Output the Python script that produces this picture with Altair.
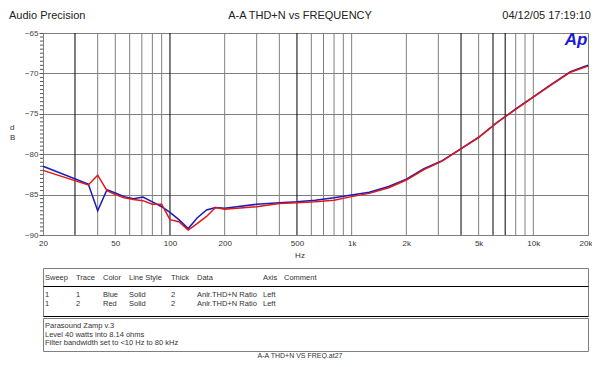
import altair as alt
import pandas as pd

# ---- data ----
freq = [20, 35.5, 40, 45, 50, 56, 63, 71, 80, 90,
        100, 112, 126, 141, 159, 178, 200,
        300, 400, 500, 630, 800, 1000,
        1250, 1600, 2000, 2500, 3150, 4000,
        5000, 6300, 8000, 10000, 12500, 16000, 20000]
db_blue = [-81.5, -83.7, -87.0, -84.4, -84.8, -85.25, -85.5, -85.3, -85.9, -86.5,
           -87.2, -88.1, -89.2, -87.9, -86.9, -86.6, -86.7,
           -86.2, -86.0, -85.9, -85.7, -85.4, -85.05,
           -84.7, -84.0, -83.1, -81.8, -80.8, -79.3,
           -77.9, -76.1, -74.4, -72.9, -71.4, -69.8, -69.0]
db_red = [-82.0, -83.8, -82.6, -84.5, -85.0, -85.4, -85.6, -85.75, -86.2, -86.2,
          -88.1, -88.35, -89.4, -88.6, -87.7, -86.6, -86.8,
          -86.5, -86.1, -86.0, -85.9, -85.7, -85.25,
          -84.85, -84.15, -83.2, -81.9, -80.85, -79.35,
          -77.95, -76.1, -74.45, -72.95, -71.45, -69.85, -69.1]

x_ticks = [20, 50, 100, 200, 500, 1000, 2000, 5000, 10000, 20000]
y_ticks = [-90, -85, -80, -75, -70, -65]
grid_gray = [40, 50, 60, 70, 80, 90, 200, 300, 400, 600, 700, 800, 900,
             1000, 2000, 3000, 5000, 8000, 9000, 10000]
grid_black = [30, 100, 500, 4000, 6000, 7000]
y_minor = [v / 2 for v in range(-180, -129) if v % 10 != 0]

header_left = "Audio Precision"
header_title = "A-A THD+N vs FREQUENCY"
header_date = "04/12/05 17:19:10"
table_cols = ["Sweep", "Trace", "Color", "Line Style", "Thick", "Data", "Axis", "Comment"]
table_rows = [["1", "1", "Blue", "Solid", "2", "Anlr.THD+N Ratio", "Left", ""],
              ["1", "2", "Red", "Solid", "2", "Anlr.THD+N Ratio", "Left", ""]]
notes = ["Parasound Zamp v.3",
         "Level 40 watts into 8.14 ohms",
         "Filter bandwidth set to <10 Hz to 80 kHz"]
footer = "A-A THD+N VS FREQ.at27"

BLUE = "#1a1ab8"
RED = "#e01818"
GRAY = "#808080"
FONT = "Liberation Sans"

W, H = 545, 202

df = pd.DataFrame({
    "f": freq + freq,
    "db": db_blue + db_red,
    "trace": ["1"] * len(freq) + ["2"] * len(freq),
})

xscale = alt.Scale(type="log", domain=[20, 20000], nice=False)
yscale = alt.Scale(domain=[-90, -65], nice=False, zero=False)

x_axis = alt.Axis(values=x_ticks, grid=False, ticks=False, domain=False,
                  labelFontSize=8, labelPadding=4, labelColor="#333333",
                  labelFont=FONT, labelFlush=False, labelOverlap=False, title=None,
                  labelAlign={"condition": {"test": "datum.value >= 20000", "value": "right"},
                              "value": "center"},
                  labelOffset={"condition": {"test": "datum.value >= 20000", "value": 4},
                               "value": 0},
                  labelExpr="datum.value >= 1000 ? format(datum.value/1000, 'd') + 'k' : format(datum.value, 'd')")
y_axis = alt.Axis(values=y_ticks, grid=True, gridColor=GRAY, gridOpacity=1,
                  domain=False, tickSize=4, tickColor="#555555", title=None,
                  labelFontSize=8, labelPadding=1, labelColor="#444444",
                  labelFont=FONT, format="d")

one = alt.Data(values=[{}])


def txt(s, x, y, size=8, align="left", color="#333333", weight="normal",
        style="normal", baseline="middle"):
    return alt.Chart(one).mark_text(
        text=s, align=align, baseline=baseline, fontSize=size, color=color,
        font=FONT, fontWeight=weight, fontStyle=style
    ).encode(x=alt.value(x), y=alt.value(y))


def box(x0, x1, y0, y1, color=GRAY):
    return alt.Chart(one).mark_rect(fillOpacity=0, stroke=color, strokeWidth=1).encode(
        x=alt.value(x0), x2=alt.value(x1), y=alt.value(y0), y2=alt.value(y1))


def hline(x0, x1, y, color="#000000"):
    return alt.Chart(one).mark_rule(color=color, strokeWidth=1).encode(
        x=alt.value(x0), x2=alt.value(x1), y=alt.value(y))


lines = alt.Chart(df).mark_line(strokeWidth=1.5).encode(
    x=alt.X("f:Q", scale=xscale, axis=x_axis),
    y=alt.Y("db:Q", scale=yscale, axis=y_axis),
    color=alt.Color("trace:N", scale=alt.Scale(domain=["1", "2"], range=[BLUE, RED]),
                    legend=None),
)
gray_rules = alt.Chart(pd.DataFrame({"f": grid_gray})).mark_rule(
    color=GRAY, strokeWidth=1).encode(x=alt.X("f:Q", scale=xscale, axis=x_axis))
black_rules = alt.Chart(pd.DataFrame({"f": grid_black})).mark_rule(
    color="#000000", strokeWidth=1).encode(x=alt.X("f:Q", scale=xscale, axis=x_axis))
minor_ticks = alt.Chart(pd.DataFrame({"v": y_minor})).mark_rule(
    color="#555555", strokeWidth=1).encode(
    y=alt.Y("v:Q", scale=yscale, axis=y_axis), x=alt.value(-3), x2=alt.value(0))

layers = [gray_rules, black_rules, minor_ticks, lines]

# header
layers += [
    txt(header_left, -34, -17, size=11, color="#222222"),
    txt(header_title, 257, -17, size=11, align="center", color="#222222"),
    txt(header_date, 548, -17, size=11, align="right", color="#222222"),
    txt("Ap", 533, 7, size=17, align="center", color="#1a1ad8", weight="bold", style="italic"),
    txt("d", -33, 95, size=8),
    txt("B", -33, 105, size=8),
    txt("Hz", 257, 223, size=8, align="center"),
]

# table
TS = 7.5
col_x = [2, 33, 60, 86, 128, 154, 220, 241]
layers += [box(0.5, 545.5, 235.5, 283.5), hline(0.5, 545.5, 253.5), hline(0.5, 545.5, 283.5),
           box(0.5, 545.5, 285.5, 318.5)]
for c, x in zip(table_cols, col_x):
    layers.append(txt(c, x, 245, size=TS))
for r, yv in zip(table_rows, [262, 270.5]):
    for c, x in zip(r, col_x):
        if c:
            layers.append(txt(c, x, yv, size=TS))
for n, yv in zip(notes, [293, 301.5, 310]):
    layers.append(txt(n, 2, yv, size=TS))
layers.append(txt(footer, 257, 325, size=7, align="center", baseline="alphabetic"))

chart = alt.layer(*layers).properties(
    width=W, height=H,
    autosize=alt.AutoSizeParams(type="none"),
    padding={"left": 35, "top": 25, "right": 4, "bottom": 124},
).configure_view(stroke=GRAY, strokeWidth=1)

chart.save("out.html", embed_options={"renderer": "svg", "actions": False})
